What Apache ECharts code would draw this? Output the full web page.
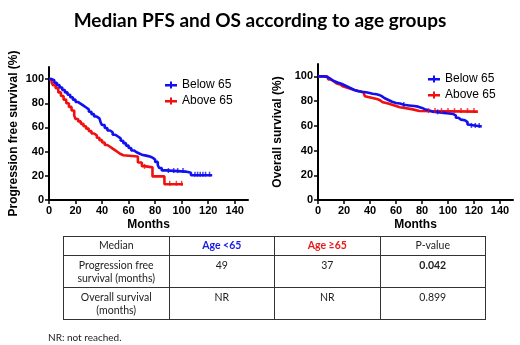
<!DOCTYPE html>
<html>
<head>
<meta charset="utf-8">
<script src="https://cdn.jsdelivr.net/npm/echarts@6/dist/echarts.min.js"></script>
<style>
  body { margin: 0; background: #fff; }
  #wrap { position: relative; width: 520px; height: 345px; }
  #chart { position: absolute; left: 0; top: 0; width: 520px; height: 345px; }
  #tbl {
    position: absolute; left: 63px; top: 236px; width: 423px; table-layout: fixed;
    border-collapse: collapse; font-family: Lato, "Open Sans", sans-serif;
    font-size: 10.5px; color: #222;
  }
  #tbl td { border: 1px solid #333; text-align: center; vertical-align: top; padding: 3px 0 0 0; line-height: 13px; white-space: pre-line; box-sizing: border-box; }
  #tbl tr.h td { height: 19px; padding-top: 2px; }
  #tbl tr.r td { height: 32px; }
  #note { position: absolute; left: 48px; top: 331px; font-family: Lato, sans-serif; font-size: 10px; color: #222; }
</style>
</head>
<body>
<div id="wrap">
  <div id="chart"></div>
  <table id="tbl"></table>
  <div id="note">NR: not reached.</div>
</div>
<script>
// Kaplan-Meier steps: [month, survival %]
const pfsBelow = [[0,100],[2,99],[4,97],[6,95],[8,93],[10,91],[12,89],[14,87],[16,85],[18,83],[20,81],[22,79.5],[24,78],[26,76.5],[28,75],[30,73],[32,71],[34,69],[36,67.5],[38,66],[39,64],[40,62],[42,59.5],[44,57.5],[46,56],[48,54],[50,52.5],[52,51],[54,49],[56,47],[58,45],[60,43],[62,41],[64,39.5],[66,38.5],[68,37.5],[70,36.5],[74,36],[76,35],[78,33.5],[80,31.5],[82,29],[83,26.5],[85,24.5],[88,23.5],[103,22.5],[107,20.5],[123,20.5]];
const pfsAbove = [[0,100],[2,97],[3,95],[5,92.5],[7,89],[9,86],[11,83],[13,80],[15,77],[17,74],[19,70],[20,67],[22,65],[24,63],[26,61],[28,59],[30,57],[32,55],[34,53.5],[36,51.5],[38,49.5],[40,47.5],[42,45.5],[44,44],[46,42.5],[48,41],[50,39.5],[52,38],[54,37],[56,36],[67,31],[70,28],[72,27],[78,19.5],[87,13],[101,13]];
const osBelow = [[0,100],[5,99.5],[7,98.5],[9,97],[11,96],[13,95],[15,94],[18,93],[20,92],[22,91],[24,90],[26,89],[28,88],[31,87.5],[34,87],[38,86],[42,85.5],[45,85],[47,84],[49,82.5],[51,81.5],[53,80.5],[55,79.5],[57,78.5],[60,78],[63,77],[66,76.5],[70,76],[74,75.5],[77,74.5],[80,73.5],[82,72.5],[85,71.5],[88,71],[92,70.5],[97,70],[101,69.5],[104,68.5],[106,66.5],[108,65],[110,64.5],[113,63],[115,61],[116,59.5],[126,59.5]];
const osAbove = [[0,100],[7,99],[8,97.5],[10,96],[12,94.5],[14,93.5],[17,92],[19,91],[22,90],[25,89],[28,88],[32,87],[35,86],[36,84],[37,82.5],[42,81.5],[46,80.5],[48,79],[50,78],[54,77],[57,76],[60,75],[63,73.5],[72,72],[78,71.5],[123,71.5]];

// censored observations
const pfsBelowCens = [[90,23.5],[94,23.5],[97,23.5],[101,23.5],[110,20.5],[112,20.5],[114,20.5],[116,20.5],[118,20.5],[121,20.5]];
const pfsAboveCens = [[72,27],[91,13],[96,13],[100,13]];
const osBelowCens = [[66,76.5],[92,70.5],[118,59.5],[121,59.5],[124,59.5]];
const osAboveCens = [[85,71.5],[90,71.5],[95,71.5],[100,71.5],[105,71.5],[110,71.5],[115,71.5],[120,71.5]];

const xTicks = [0, 20, 40, 60, 80, 100, 120, 140];
const yTicks = [0, 20, 40, 60, 80, 100];

const tableRows = [
  ["Median", "Age <65", "Age \u226565", "P-value"],
  ["Progression free\nsurvival (months)", "49", "37", "0.042"],
  ["Overall survival\n(months)", "NR", "NR", "0.899"]
];

const BLUE = "#1010f0";
const RED = "#f01010";
const FONT = "'Liberation Sans', Arial, sans-serif";

// table
const tbl = document.getElementById("tbl");
tableRows.forEach((row, i) => {
  const tr = document.createElement("tr");
  tr.className = i === 0 ? "h" : "r";
  row.forEach((cell, j) => {
    const td = document.createElement("td");
    td.textContent = cell;
    if (i === 0 && j === 1) { td.style.color = "#1a1ae6"; td.style.fontWeight = "bold"; }
    if (i === 0 && j === 2) { td.style.color = "#e61a1a"; td.style.fontWeight = "bold"; }
    if (i === 1 && j === 3) td.style.fontWeight = "bold";
    tr.appendChild(td);
  });
  tbl.appendChild(tr);
});

const chart = echarts.init(document.getElementById("chart"));

function xAxis(gridIndex) {
  return {
    gridIndex, type: "value", min: 0, max: 150,
    name: "Months", nameLocation: "middle", nameGap: 19,
    nameTextStyle: { fontFamily: FONT, fontWeight: "bold", fontSize: 12, color: "#000" },
    axisLine: { lineStyle: { color: "#000", width: 2 } },
    axisTick: { show: true, length: 4, customValues: xTicks, lineStyle: { color: "#000", width: 1.5 } },
    axisLabel: { customValues: xTicks, fontFamily: FONT, fontWeight: "bold", fontSize: 11, color: "#000", margin: 5 },
    splitLine: { show: false }
  };
}
function yAxis(gridIndex, name, gap) {
  return {
    gridIndex, type: "value", min: 0, max: 110,
    name, nameLocation: "middle", nameGap: gap, nameRotate: 90,
    nameTextStyle: { fontFamily: FONT, fontWeight: "bold", fontSize: 12, color: "#000" },
    axisLine: { show: true, lineStyle: { color: "#000", width: 2 } },
    axisTick: { show: true, length: 4, customValues: yTicks, lineStyle: { color: "#000", width: 1.5 } },
    axisLabel: { customValues: yTicks, fontFamily: FONT, fontWeight: "bold", fontSize: 11, color: "#000", margin: 5 },
    splitLine: { show: false }
  };
}
function km(name, data, color, idx) {
  return {
    name, type: "line", step: "end", data, xAxisIndex: idx, yAxisIndex: idx,
    showSymbol: false, lineStyle: { color, width: 2.6 }, itemStyle: { color }, z: name === "Below 65" ? 3 : 2
  };
}
function cens(name, data, color, idx) {
  return {
    name, type: "scatter", data, xAxisIndex: idx, yAxisIndex: idx,
    symbol: "rect", symbolSize: [1.5, 5], symbolOffset: [0, -1], itemStyle: { color }, z: 4
  };
}
const legendIcon = "path://M0,3h12v2.4h-12z M5,0.5h2v7h-2z";
function legend(left, top) {
  return {
    left, top, orient: "vertical", itemGap: 4, itemWidth: 12, itemHeight: 7,
    icon: legendIcon, data: ["Below 65", "Above 65"],
    textStyle: { fontFamily: FONT, fontSize: 12, color: "#000" }
  };
}

chart.setOption({
  animation: false,
  title: {
    text: "Median PFS and OS according to age groups",
    left: "center", top: 6,
    textStyle: { fontFamily: "Lato, 'Open Sans', sans-serif", fontWeight: "bold", fontSize: 19, color: "#000" }
  },
  legend: [legend(160, 74), legend(423, 68)],
  grid: [
    { left: 49, top: 67, width: 199, height: 133 },
    { left: 318, top: 64, width: 195, height: 136 }
  ],
  xAxis: [xAxis(0), xAxis(1)],
  yAxis: [yAxis(0, "Progression free survival (%)", 29), yAxis(1, "Overall survival (%)", 34)],
  series: [
    km("Above 65", pfsAbove, RED, 0),
    km("Below 65", pfsBelow, BLUE, 0),
    cens("Above 65", pfsAboveCens, RED, 0),
    cens("Below 65", pfsBelowCens, BLUE, 0),
    km("Above 65", osAbove, RED, 1),
    km("Below 65", osBelow, BLUE, 1),
    cens("Above 65", osAboveCens, RED, 1),
    cens("Below 65", osBelowCens, BLUE, 1)
  ]
});
</script>
</body>
</html>
